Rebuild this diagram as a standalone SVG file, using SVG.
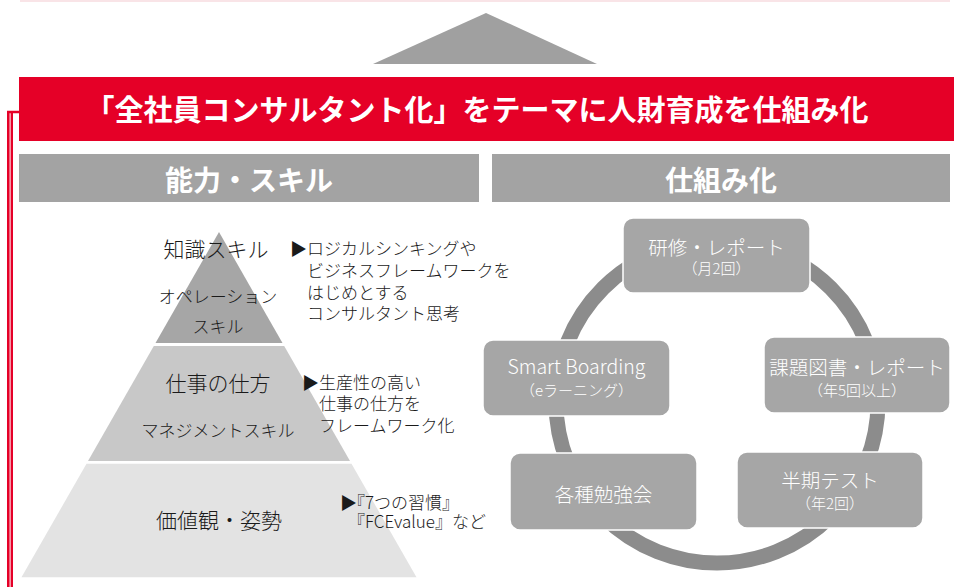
<svg xmlns="http://www.w3.org/2000/svg" width="954" height="587" viewBox="0 0 954 587">
<style>
text { font-family: "Noto Sans CJK JP", "Noto Sans", sans-serif; }
.hdr { fill: #a3a3a3; }
.hdrt { fill: #ffffff; font-size: 28px; font-weight: 700; text-anchor: middle; }
.pl { fill: #1a1a1a; font-size: 21px; font-weight: 300; text-anchor: middle; }
.ps { fill: #1a1a1a; font-size: 17px; font-weight: 300; text-anchor: middle; }
.note { fill: #1a1a1a; font-size: 17px; font-weight: 300; }
.box { fill: #a6a6a6; stroke: #ffffff; stroke-width: 1.5; }
.bt { fill: #ffffff; font-size: 19.5px; font-weight: 300; text-anchor: middle; }
.bs { fill: #ffffff; font-size: 15px; font-weight: 300; text-anchor: middle; }
.red { fill: none; stroke: #e50027; }
</style>
<rect width="954" height="587" fill="#ffffff"/>

<g id="top-line"><rect x="20" y="0" width="930" height="2" fill="#f9e4e7"/></g>

<g id="up-arrow"><polygon points="373,64 486,13 597,64" fill="#a0a0a0"/></g>

<g id="frame">
<path class="red" d="M20 112 H8.3 V587" stroke-width="2.6"/>
<path class="red" d="M11.8 113 V587" stroke-width="2.4"/>
<rect x="950" y="103" width="4" height="10" fill="#e50027"/>
</g>

<g id="banner">
<rect x="19" y="77" width="935" height="64" fill="#e50027"/>
<text x="477" y="120.5" fill="#ffffff" font-size="29" font-weight="700" text-anchor="middle">「全社員コンサルタント化」をテーマに人財育成を仕組み化</text>
</g>

<g id="header-skill">
<rect class="hdr" x="19" y="154" width="460" height="48"/>
<text class="hdrt" x="249" y="190.5">能力・スキル</text>
</g>
<g id="header-system">
<rect class="hdr" x="492" y="154" width="458" height="48"/>
<text class="hdrt" x="721" y="190.5">仕組み化</text>
</g>

<g id="pyramid-top">
<polygon points="219,232 282.5,343 155.5,343" fill="#a6a6a6"/>
<text class="pl" x="216" y="257">知識スキル</text>
<text class="ps" x="218" y="302.5">オペレーション</text>
<text class="ps" x="218" y="332.5">スキル</text>
</g>
<g id="pyramid-middle">
<polygon points="153.8,346 284.2,346 350,461 88,461" fill="#c8c8c8"/>
<text class="pl" x="218" y="391">仕事の仕方</text>
<text class="ps" x="218" y="436.5">マネジメントスキル</text>
</g>
<g id="pyramid-bottom">
<polygon points="86.5,463.7 351.5,463.7 416.5,577.3 21.5,577.3" fill="#e3e3e3"/>
<text class="pl" x="219" y="528">価値観・姿勢</text>
</g>

<g id="note-knowledge">
<text class="note" x="290" y="255">▶ロジカルシンキングや</text>
<text class="note" x="307" y="276.8">ビジネスフレームワークを</text>
<text class="note" x="307" y="298.6">はじめとする</text>
<text class="note" x="307" y="320.4">コンサルタント思考</text>
</g>
<g id="note-work">
<text class="note" x="302" y="388.5">▶生産性の高い</text>
<text class="note" x="319" y="410">仕事の仕方を</text>
<text class="note" x="319" y="431.5">フレームワーク化</text>
</g>
<g id="note-values">
<text class="note" x="340" y="508.5">▶<tspan dx="-9">『7つの習慣』</tspan></text>
<text class="note" x="348" y="528">『FCEvalue』など</text>
</g>

<g id="connectors">
<circle cx="717" cy="402" r="161" fill="none" stroke="#8c8c8c" stroke-width="15"/>
</g>

<g id="node-training">
<rect class="box" x="623" y="218" width="187" height="75" rx="10"/>
<text class="bt" x="716.5" y="254.5">研修・レポート</text>
<text class="bs" x="716.5" y="273.5">（月2回）</text>
</g>
<g id="node-smartboarding">
<rect class="box" x="483" y="340" width="187" height="76" rx="10"/>
<text class="bt" x="576.5" y="374" font-size="20">Smart Boarding</text>
<text class="bs" x="576.5" y="395.5">（eラーニング）</text>
</g>
<g id="node-books">
<rect class="box" x="764" y="337" width="186" height="76" rx="10"/>
<text class="bt" x="857" y="374.5">課題図書・レポート</text>
<text class="bs" x="857" y="395.5">（年5回以上）</text>
</g>
<g id="node-study">
<rect class="box" x="510" y="453" width="187" height="77" rx="10"/>
<text class="bt" x="603.5" y="501.5" font-size="20">各種勉強会</text>
</g>
<g id="node-test">
<rect class="box" x="737" y="452" width="186" height="76" rx="10"/>
<text class="bt" x="830" y="488">半期テスト</text>
<text class="bs" x="830" y="509">（年2回）</text>
</g>
</svg>
